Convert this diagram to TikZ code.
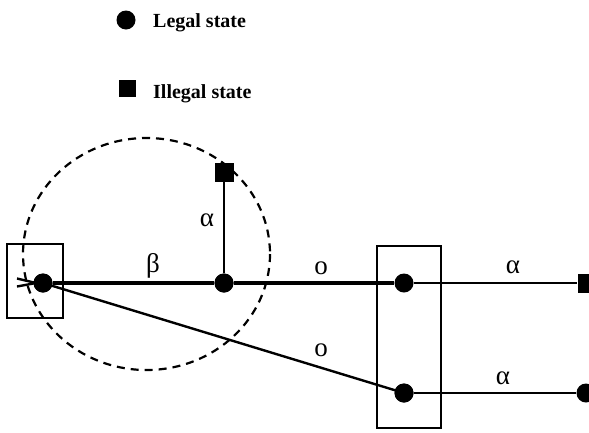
\documentclass[tikz,border=0pt]{standalone}
\usepackage{fontspec}
\setmainfont{Liberation Serif}
\begin{document}
\begin{tikzpicture}[x=1pt,y=-1pt,
  legal/.style={circle,fill=black,inner sep=0pt,minimum size=19pt},
  illegal/.style={rectangle,fill=black,inner sep=0pt,minimum size=19pt},
  groupbox/.style={draw=black,line width=2.2pt},
  thickedge/.style={line width=4.8pt},
  thinedge/.style={line width=2.4pt},
  lbl/.style={font=\fontsize{27}{30}\selectfont,inner sep=0pt},
  legendtext/.style={font=\fontsize{20}{24}\selectfont\bfseries,anchor=base west,inner sep=0pt}]
\useasboundingbox (0,0) rectangle (589,432);

% legend
\node[legal] (legA) at (126,20) {};
\node[legendtext] (legAt) at (153,27) {Legal state};
\node[illegal,minimum size=17pt] (legB) at (127,88) {};
\node[legendtext] (legBt) at (153,98) {Illegal state};

% neighbourhood of the start state
\draw[line width=2.2pt,dash pattern=on 8pt off 6pt] (146.5,254) ellipse [x radius=123.5,y radius=116];

% grouping boxes
\draw[groupbox] (7,244) rectangle (63,318);
\draw[groupbox] (377,246) rectangle (441,428);

% states
\node[legal] (s0) at (43,283) {};
\node[legal] (s1) at (224,283) {};
\node[illegal] (x1) at (224,172) {};
\node[legal] (s2) at (404,283) {};
\node[legal] (s3) at (404,393) {};
\node[illegal] (x2) at (587,283) {};
\node[legal] (s4) at (586,393) {};

% entry marker of the start state
\coordinate (in1) at (17,278.5);
\coordinate (in2) at (17,286.5);
\coordinate (tip) at (36,283);
\draw[thinedge] (in1) -- (tip);
\draw[thinedge] (in2) -- (tip);

% transitions
\draw[thickedge] (s0) -- (s1);
\draw[thickedge] (s1) -- (s2);
\draw[thinedge] (s1) -- (x1);
\draw[thinedge] (s0.center) -- (s3.center);
\draw[thinedge] (s2) -- (x2);
\draw[thinedge] (s3) -- (s4);

% redraw states on top of the edges
\foreach \n in {s0,s1,s3} \fill (\n) circle (9.5);

% transition labels
\node[lbl] (lb) at (153,266) {β};
\node[lbl] (la1) at (207,220) {α};
\node[lbl] (lo1) at (321,268) {o};
\node[lbl] (lo2) at (321,350) {o};
\node[lbl] (la2) at (513,267) {α};
\node[lbl] (la3) at (503,378) {α};
\end{tikzpicture}
\end{document}
